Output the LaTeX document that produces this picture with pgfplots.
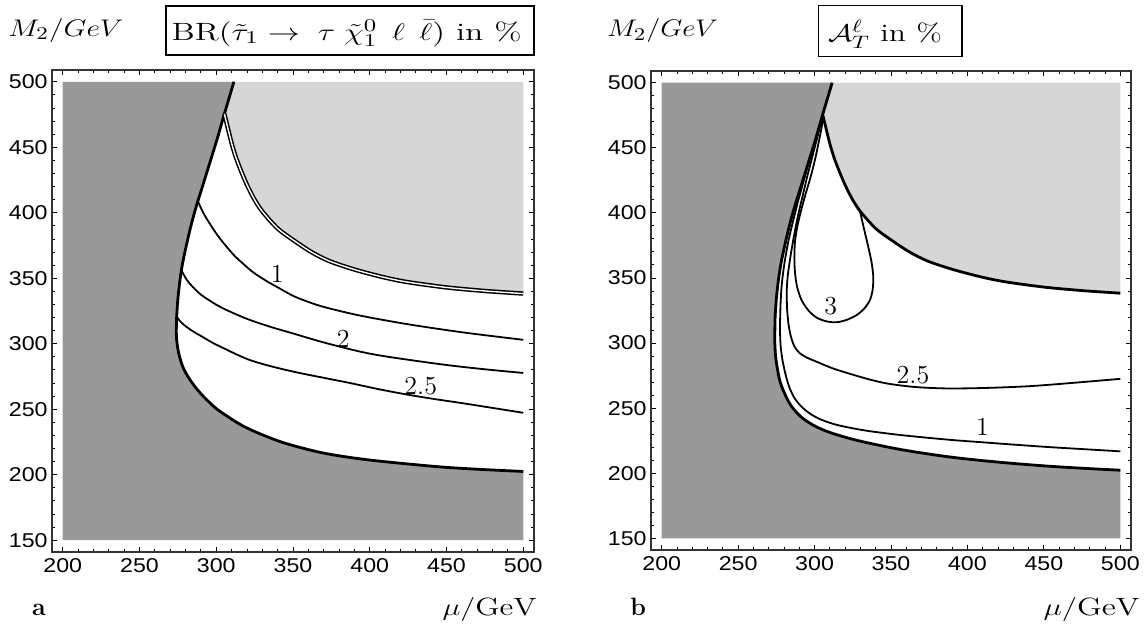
\documentclass[border=0pt]{standalone}
\usepackage{fontspec}
\usepackage{graphicx}
\usepackage{pgfplots}
\pgfplotsset{compat=1.18}
\newfontfamily\tickfont[FakeStretch=1.16]{Liberation Sans}
\definecolor{dkg}{gray}{0.6}
\definecolor{ltg}{gray}{0.84}
\tikzset{clab/.style={font=\fontsize{13}{15}\selectfont, inner sep=0pt}}
\pgfplotsset{
 panel/.style={
  scale only axis,
  xmin=193, xmax=507, ymin=141, ymax=509,
  xtick={200,250,...,500}, ytick={150,200,...,500},
  minor x tick num=4, minor y tick num=4,
  tick align=inside, major tick length=2.5pt, minor tick length=1.4pt,
  tick style={line width=0.45pt, black},
  axis line style={line width=0.6pt, black!80},
  tick label style={font=\tickfont\fontsize{10}{11}\selectfont, inner sep=0pt},
  /pgf/number format/assume math mode=true,
  xticklabel style={yshift=-3pt},
  yticklabel style={xshift=-2pt},
  axis on top,
 },
 bnd/.style={smooth, line width=1.4pt, black},
 cnt/.style={smooth, line width=0.9pt, black},
}
\begin{document}
\begin{tikzpicture}[x=1pt,y=1pt]
\path[use as bounding box] (0,0) rectangle (573.5,314.5);
% ---------------- panel a ----------------
\begin{axis}[panel, at={(26pt,38.5pt)}, anchor=south west, width=241pt, height=241pt]
% dark region
\addplot[fill=dkg, draw=none] coordinates {
(200,150) (500,150) (500,202.5) (470,204.2) (443.6,206.2) (400,211.2) (370,216.5) (345,224) (328,231.5) (317,237.5) (308,244) (300,250.5) (294,257) (289.5,262.5) (285,269) (281,276) (278,283) (275.7,292) (274.5,300)
(274,308) (274.2,320) (275,334) (276.3,348) (278,361) (280.5,375) (283.5,390) (287,405) (291,420) (295.5,437) (300.5,456) (305.3,475.5) (311.5,500) (200,500) (200,150)};
% light region
\addplot[fill=ltg, draw=none] coordinates {
(311.5,500) (500,500) (500,338.3) (475,340.3) (450,343) (425,347) (410,350.5) (395,355) (385,358.5) (373.3,363.3) (362,370) (351,378.5) (340,388) (329.7,401.5) (324,412) (318.8,424.5) (313.5,440) (310.5,451) (307.9,463) (305.3,475.5) (311.5,500)};
% boundary
\addplot[bnd] coordinates {
(311.5,500) (305.3,475.5) (300.5,456) (295.5,437) (291,420) (287,405) (283.5,390) (280.5,375) (278,361) (276.3,348) (275,334) (274.2,320) (274,308)
(274.5,300) (275.7,292) (278,283) (281,276) (285,269) (289.5,262.5) (294,257) (300,250.5) (308,244) (317,237.5) (328,231.5) (345,224) (370,216.5) (400,211.2) (443.6,206.2) (470,204.2) (500,202.5)};
% upper curve (double)
\addplot[smooth, line width=0.75pt, double=white, double distance=0.7pt] coordinates {
(305.3,475.5) (307.9,463) (310.5,451) (313.5,440) (318.8,424.5) (324,412) (329.7,401.5) (340,388) (351,378.5) (362,370) (373.3,363.3) (385,358.5) (395,355) (410,350.5) (425,347) (450,343) (475,340.3) (500,338.3)};
% contour 1
\addplot[cnt] coordinates {
(288,409) (291.5,400) (295.9,391.5) (301,382.5) (306.8,374) (312,367) (317.6,361) (323,355.5) (328.5,351) (334,347) (339.4,343.5) (350.2,336.5) (361,331.5) (372,327.5) (393.7,321.5) (424.3,315) (460.5,308.7) (500,303)};
% contour 2
\addplot[cnt] coordinates {
(277.5,355.5) (281,348.5) (285,343) (290,337.5) (295,333.5) (300.5,329.5) (306.8,325.7) (320,319) (335,313) (350.2,307.8) (370,301) (393.7,294) (412.2,290) (448.5,284) (475,280.5) (500,277.7)};
% contour 2.5
\addplot[cnt] coordinates {
(274.2,320.5) (277,316.5) (280.5,313) (285.5,309) (291.4,305) (298,300.5) (305,296.5) (313,292) (322,287.5) (335,283) (351.8,278.3) (370,274) (388,269.8) (405,265.5) (424.3,261.2) (442,257.8) (460.5,254.6) (480,251) (500,247.3)};
\node[clab] at (axis cs:339.8,353.5) {1};
\node[clab] at (axis cs:382.8,304) {2};
\node[clab] at (axis cs:433.2,267.5) {2.5};
\end{axis}
% ---------------- panel b ----------------
\begin{axis}[panel, at={(325.5pt,39.5pt)}, anchor=south west, width=240pt, height=239.5pt]
\addplot[fill=dkg, draw=none] coordinates {
(200,150) (500,150) (500,202.3) (480,203.5) (454.3,205.3) (430,207.5) (407,210) (385,213) (359.7,217.5) (340,222) (324.2,226.3) (310,231.3) (300.6,236) (293,241.5) (288,247) (284,253) (280.5,261) (277.5,270) (275.7,280) (274.5,290) (274,300)
(274,308) (274.2,320) (275,334) (276.3,348) (278,361) (280.5,375) (283.5,390) (287,405) (291,420) (295.5,437) (300.5,456) (305.3,475.5) (311.5,500) (200,500) (200,150)};
\addplot[fill=ltg, draw=none] coordinates {
(311.5,500) (500,500) (500,338.3) (475,340.3) (450,343) (425,347) (410,350.5) (395,355) (385,358.5) (373.3,363.3) (362,370) (351,378.5) (340,388) (329.7,401.5) (324,412) (318.8,424.5) (313.5,440) (310.5,451) (307.9,463) (305.3,475.5) (311.5,500)};
% boundary
\addplot[bnd] coordinates {
(311.5,500) (305.3,475.5) (300.5,456) (295.5,437) (291,420) (287,405) (283.5,390) (280.5,375) (278,361) (276.3,348) (275,334) (274.2,320) (274,308)
(274,300) (274.5,290) (275.7,280) (277.5,270) (280.5,261) (284,253) (288,247) (293,241.5) (300.6,236) (310,231.3) (324.2,226.3) (340,222) (359.7,217.5) (385,213) (407,210) (430,207.5) (454.3,205.3) (480,203.5) (500,202.3)};
% upper curve
\addplot[bnd] coordinates {
(305.3,475.5) (307.9,463) (310.5,451) (313.5,440) (318.8,424.5) (324,412) (329.7,401.5) (340,388) (351,378.5) (362,370) (373.3,363.3) (385,358.5) (395,355) (410,350.5) (425,347) (450,343) (475,340.3) (500,338.3)};
% contour 1
\addplot[cnt] coordinates {
(305.3,475.5) (301,457) (296.5,440) (292.5,423) (289,408) (285.8,393) (283,379) (280.8,365) (279.2,352) (278.2,340) (277.6,325) (277.4,310) (277.8,298) (279,287) (281,276) (283.5,266) (287,257.5) (292,250.5) (298,245) (305,240.8) (314,237.3) (325,234.5) (336,232.3) (355,229.5) (371.5,227.5) (390,225.5) (407,224) (430,222) (454.3,220) (480,218.2) (500,216.8)};
% contour 2.5
\addplot[cnt] coordinates {
(305.3,475.5) (302,459) (298.5,443) (295,427) (292,412) (289,397) (286.5,382) (284.3,367) (282.5,352) (281.8,340) (282,327) (282.9,315) (284.5,305) (286.8,297.5) (290,292.5) (295,288.8) (300.6,286) (312,280.5) (324.2,276) (336,272) (348,268.8) (365,266.3) (383.4,265.2) (400,265.2) (420,265.8) (442.5,267) (470,269.5) (500,272.5)};
% contour 3 (loop)
\addplot[cnt] coordinates {
(329.7,401.5) (331.5,392) (333.5,382) (335.5,372) (337.3,362) (338.4,351) (338,341) (336.2,333) (332.5,326.5) (327.5,321.5) (321,317.8) (314.5,316) (308,316.6) (301.4,319.5) (296,325) (291.5,333) (288.6,343) (287.2,354) (286.8,366) (287.2,378) (288.8,390) (291,401) (294,414) (297.5,428) (300.5,442) (303,456) (304.8,467) (305.5,475)};
\node[clab] at (axis cs:310.5,328.5) {3};
\node[clab] at (axis cs:364.4,275.5) {2.5};
\node[clab] at (axis cs:409.9,235.5) {1};
\end{axis}
% ---------------- texts ----------------
\node[anchor=base west, inner sep=0pt] at (4,296.5) {\fontsize{12.5}{15}\selectfont\resizebox{57.5pt}{\height}{$M_2/GeV$}};
\node[anchor=base west, inner sep=0pt] at (303.3,296.2) {\fontsize{12.5}{15}\selectfont\resizebox{55.5pt}{\height}{$M_2/GeV$}};
\draw[line width=0.8pt] (83,287) rectangle (267,311.5);
\node[anchor=base, inner sep=0pt] at (173.3,294.5) {\fontsize{12.5}{15}\selectfont\resizebox{175pt}{\height}{BR($\tilde{\tau}_1 \;{\rightarrow}\;\; \tau\;\tilde{\chi}^0_1 \;\, \ell \;\, \bar{\ell}$) in \%}};
\draw[line width=0.8pt] (409.2,286.3) rectangle (481.1,311.7);
\node[anchor=base, inner sep=0pt] at (442.5,293.7) {\fontsize{12.5}{15}\selectfont\resizebox{57pt}{\height}{$\mathcal{A}_T^{\ell}$ in \%}};
\node[anchor=base west, inner sep=0pt] at (15.9,7) {\fontsize{12.5}{15}\selectfont\bfseries a};
\node[anchor=base west, inner sep=0pt] at (315,7) {\fontsize{12.5}{15}\selectfont\bfseries b};
\node[anchor=base east, inner sep=0pt] at (268.5,7) {\fontsize{12.5}{15}\selectfont\resizebox{47pt}{\height}{$\mu/\mathrm{GeV}$}};
\node[anchor=base east, inner sep=0pt] at (570,7) {\fontsize{12.5}{15}\selectfont\resizebox{48pt}{\height}{$\mu/\mathrm{GeV}$}};
\end{tikzpicture}
\end{document}
